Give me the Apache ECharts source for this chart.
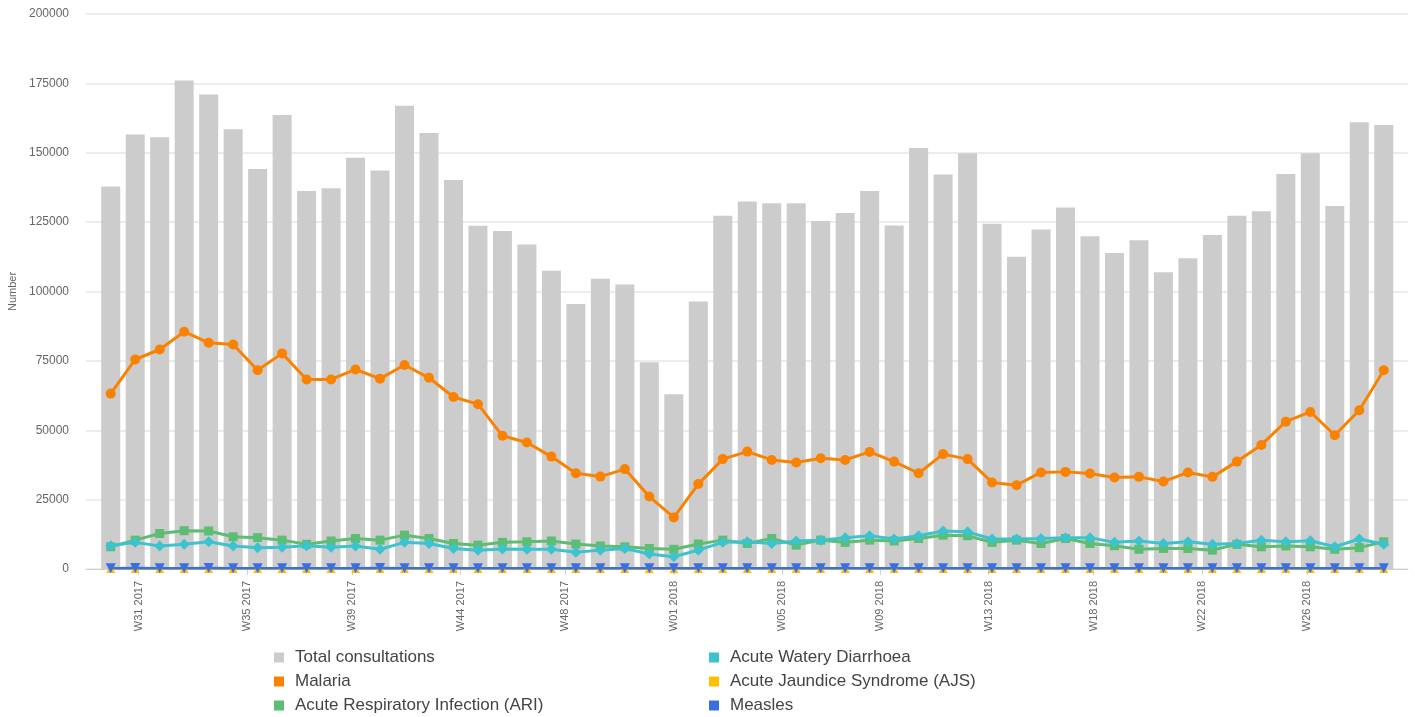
<!DOCTYPE html>
<html>
<head>
<meta charset="utf-8">
<script src="https://cdn.jsdelivr.net/npm/echarts@6/dist/echarts.min.js"></script>
<style>
html,body{margin:0;padding:0;background:#fff;}
#chart{width:1415px;height:717px;}
</style>
</head>
<body>
<div id="chart"></div>
<script>
const categories = ["W30 2017","W31 2017","W32 2017","W33 2017","W34 2017","W35 2017","W36 2017","W37 2017","W38 2017","W39 2017",
  "W40 2017","W41 2017","W42 2017","W43 2017","W44 2017","W45 2017","W46 2017","W47 2017","W48 2017","W49 2017",
  "W50 2017","W51 2017","W52 2017","W01 2018","W02 2018","W03 2018","W04 2018","W05 2018","W06 2018","W07 2018",
  "W08 2018","W09 2018","W10 2018","W11 2018","W12 2018","W13 2018","W14 2018","W15 2018","W16 2018","W17 2018",
  "W18 2018","W19 2018","W20 2018","W21 2018","W22 2018","W23 2018","W24 2018","W25 2018","W26 2018","W27 2018",
  "W28 2018","W29 2018","W30 2018"];
const firstWeekStart = "2017-07-24";

const totalConsultations = [137800,156600,155600,176000,171000,158500,144100,163600,136200,137200,
  148200,143600,166900,157100,140200,123700,121800,116900,107500,95500,
  104600,102500,74500,63000,96400,127300,132400,131800,131800,125400,
  128300,136200,123800,151700,142200,149800,124400,112500,122300,130300,
  119900,113900,118500,106900,112000,120400,127300,128900,142300,149800,
  130800,161000,160000];
const malaria = [63200,75500,79100,85500,81500,80900,71600,77700,68300,68300,
  71900,68600,73500,68900,62000,59400,48000,45600,40500,34500,
  33300,36000,26100,18600,30600,39600,42300,39300,38400,39900,
  39300,42200,38700,34500,41400,39600,31200,30200,34800,35000,
  34400,33000,33200,31500,34800,33200,38700,44700,53100,56600,
  48200,57200,71600];
const ari = [8000,10400,12800,13800,13700,11600,11300,10400,8900,10100,
  11000,10400,12200,11000,9200,8600,9600,9800,10100,9000,
  8300,8000,7400,7100,9000,10400,9200,11000,8600,10400,
  9600,10400,10100,11000,12200,12000,9600,10400,9200,11000,
  9200,8400,7100,7400,7400,6800,8900,8000,8300,8000,
  7100,7700,9800];
const awd = [8400,9600,8300,8900,9800,8300,7700,7800,8400,7800,
  8300,7100,9600,9200,7400,6800,7200,7100,7100,6000,
  6800,7400,5400,4400,6800,9600,9800,9200,10100,10400,
  11300,12000,10800,12000,13700,13400,10800,10800,11000,11300,
  11300,9600,10100,9200,9800,8900,9200,10400,9800,10200,
  8000,10800,8900];
const ajs = [150,150,140,150,160,150,140,150,150,140,
  150,150,140,150,150,140,150,150,140,150,
  150,140,130,120,140,150,150,140,150,150,
  140,150,150,140,150,150,140,150,150,140,
  150,150,140,150,150,140,150,150,140,150,
  150,140,150];
const measles = [300,320,310,300,320,310,300,310,300,310,
  300,320,310,300,310,300,310,300,290,300,
  290,280,260,240,270,290,300,300,310,300,
  310,300,310,300,310,300,300,310,300,310,
  300,310,300,300,310,300,300,310,300,310,
  300,310,300];

const tickLabels = ["W31 2017","W35 2017","W39 2017","W44 2017","W48 2017","W01 2018","W05 2018","W09 2018","W13 2018","W18 2018","W22 2018","W26 2018"];
const tickDates = ["2017-08-01","2017-09-01","2017-10-01","2017-11-01","2017-12-01","2018-01-01","2018-02-01","2018-03-01","2018-04-01","2018-05-01","2018-06-01","2018-07-01"];

function utc(s){const p=s.split('-').map(Number);return Date.UTC(p[0],p[1]-1,p[2]);}
const t0 = utc(firstWeekStart);
const tickPos = tickDates.map(d => (utc(d)-t0)/(7*86400000));
function tickLabelFor(v){
  for (let i=0;i<tickPos.length;i++){ if (Math.abs(tickPos[i]-v) < 1e-6) return tickLabels[i]; }
  return '';
}

const FONT = "'Liberation Sans', Arial, sans-serif";
const colors = {
  total:'#cccccc', malaria:'#fb8200', ari:'#5dbd72', awd:'#3cc3d0', ajs:'#fdc100', measles:'#3b6fe0'
};

const chart = echarts.init(document.getElementById('chart'), null, {renderer:'canvas'});
chart.setOption({
  animation:false,
  textStyle:{fontFamily:FONT},
  grid:[
    {left:86, right:7, top:14, bottom:148, outerBoundsMode:'none', containLabel:false},
    {left:98.5, right:19, top:14, bottom:148, outerBoundsMode:'none', containLabel:false}
  ],
  xAxis:[
    {gridIndex:0, type:'value', min:0, max:1,
     axisLine:{show:true, lineStyle:{color:'#d0d0d0', width:1}},
     axisTick:{show:false}, axisLabel:{show:false}, splitLine:{show:false}},
    {gridIndex:1, type:'category', data:categories, boundaryGap:true,
     axisLine:{show:false}, axisTick:{show:false}, axisLabel:{show:false}, splitLine:{show:false}},
    {gridIndex:1, type:'value', min:-0.5, max:52.5, position:'bottom',
     axisLine:{show:false}, splitLine:{show:false},
     axisTick:{show:true, customValues:tickPos, length:6, lineStyle:{color:'#c8d2e0'}},
     axisLabel:{show:true, customValues:tickPos, rotate:90, margin:12, fontSize:11, color:'#666',
       fontFamily:FONT, formatter:(v)=>tickLabelFor(v)}}
  ],
  yAxis:[
    {gridIndex:0, type:'value', min:0, max:200000, interval:25000,
     name:'Number', nameLocation:'middle', nameGap:64, nameRotate:90,
     nameTextStyle:{fontSize:11, color:'#666', fontFamily:FONT},
     axisLine:{show:false}, axisTick:{show:false},
     axisLabel:{fontSize:12, color:'#666', margin:17, fontFamily:FONT, formatter:(v)=>String(v)},
     splitLine:{show:true, lineStyle:{color:'#e6e6e6', width:1.5}}},
    {gridIndex:1, type:'value', min:0, max:200000, show:false, splitLine:{show:false}}
  ],
  legend:[
    {orient:'vertical', left:274, top:649, padding:0, itemGap:7, itemWidth:10, itemHeight:10, icon:'rect',
     textStyle:{fontSize:17, color:'#444', fontFamily:FONT, padding:[0,0,0,6]},
     data:['Total consultations','Malaria','Acute Respiratory Infection (ARI)']},
    {orient:'vertical', left:709, top:649, padding:0, itemGap:7, itemWidth:10, itemHeight:10, icon:'rect',
     textStyle:{fontSize:17, color:'#444', fontFamily:FONT, padding:[0,0,0,6]},
     data:['Acute Watery Diarrhoea','Acute Jaundice Syndrome (AJS)','Measles']}
  ],
  series:[
    {name:'Total consultations', type:'bar', xAxisIndex:1, yAxisIndex:1, data:totalConsultations,
     barWidth:19, itemStyle:{color:colors.total}},
    {name:'Malaria', type:'line', xAxisIndex:1, yAxisIndex:1, data:malaria,
     symbol:'circle', symbolSize:10, lineStyle:{width:3, color:colors.malaria}, itemStyle:{color:colors.malaria}},
    {name:'Acute Respiratory Infection (ARI)', type:'line', xAxisIndex:1, yAxisIndex:1, data:ari,
     symbol:'rect', symbolSize:9, lineStyle:{width:3, color:colors.ari}, itemStyle:{color:colors.ari}},
    {name:'Acute Watery Diarrhoea', type:'line', xAxisIndex:1, yAxisIndex:1, data:awd,
     symbol:'diamond', symbolSize:11, lineStyle:{width:3, color:colors.awd}, itemStyle:{color:colors.awd}},
    {name:'Acute Jaundice Syndrome (AJS)', type:'line', xAxisIndex:1, yAxisIndex:1, data:ajs, clip:false,
     symbol:'triangle', symbolSize:9, lineStyle:{width:2, color:colors.ajs}, itemStyle:{color:colors.ajs}},
    {name:'Measles', type:'line', xAxisIndex:1, yAxisIndex:1, data:measles, clip:false,
     symbol:'triangle', symbolRotate:180, symbolSize:10, lineStyle:{width:2.5, color:colors.measles}, itemStyle:{color:colors.measles}}
  ]
});
</script>
</body>
</html>
